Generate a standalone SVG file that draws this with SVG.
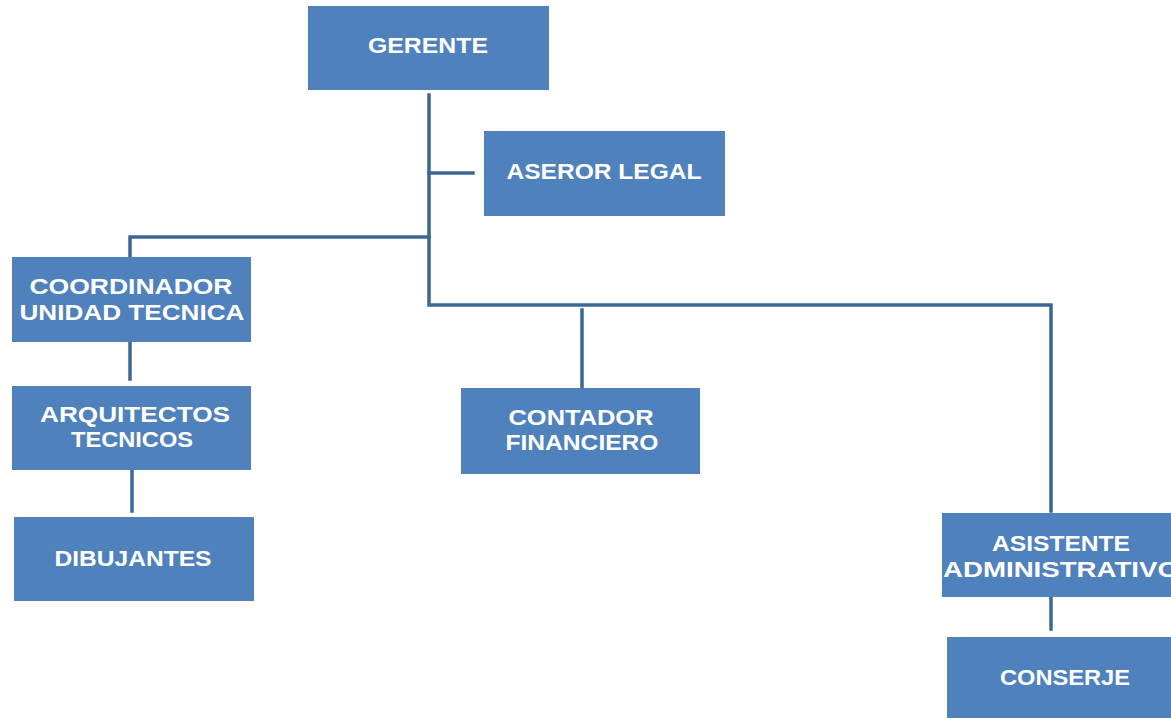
<svg xmlns="http://www.w3.org/2000/svg" width="1171" height="718" viewBox="0 0 1171 718">
<style>
.box{fill:#4F81BD;}
.lbl{fill:#FFFFFF;font-family:"Liberation Sans",Arial,sans-serif;font-weight:700;font-size:22px;text-anchor:middle;}
.ln{stroke:#3B6797;stroke-width:3.5;fill:none;stroke-linecap:square;}
</style>
<rect width="1171" height="718" fill="#FFFFFF"/>
<g id="connectors">
<path class="ln" d="M429,95 V305 H1051 V511"/>
<path class="ln" d="M429,173 H473"/>
<path class="ln" d="M429,237 H130 V256"/>
<path class="ln" d="M582,310 V387"/>
<path class="ln" d="M130,343 V379"/>
<path class="ln" d="M132,471 V511"/>
<path class="ln" d="M1051,598 V629"/>
</g>
<g id="gerente"><rect class="box" x="308" y="6" width="241" height="84"/><text class="lbl" x="428" y="53" textLength="120" lengthAdjust="spacingAndGlyphs">GERENTE</text></g>
<g id="aseror"><rect class="box" x="484" y="131" width="241" height="85"/><text class="lbl" x="604" y="179" textLength="195" lengthAdjust="spacingAndGlyphs">ASEROR LEGAL</text></g>
<g id="coordinador"><rect class="box" x="12" y="257" width="239" height="85"/><text class="lbl" x="131" y="294" textLength="203" lengthAdjust="spacingAndGlyphs">COORDINADOR</text><text class="lbl" x="132" y="320" textLength="225" lengthAdjust="spacingAndGlyphs">UNIDAD TECNICA</text></g>
<g id="arquitectos"><rect class="box" x="12" y="386" width="239" height="84"/><text class="lbl" x="135" y="422" textLength="190" lengthAdjust="spacingAndGlyphs">ARQUITECTOS</text><text class="lbl" x="132" y="447" textLength="122" lengthAdjust="spacingAndGlyphs">TECNICOS</text></g>
<g id="dibujantes"><rect class="box" x="14" y="517" width="240" height="84"/><text class="lbl" x="133" y="566" textLength="157" lengthAdjust="spacingAndGlyphs">DIBUJANTES</text></g>
<g id="contador"><rect class="box" x="461" y="388" width="239" height="86"/><text class="lbl" x="581" y="425" textLength="145" lengthAdjust="spacingAndGlyphs">CONTADOR</text><text class="lbl" x="582" y="450" textLength="153" lengthAdjust="spacingAndGlyphs">FINANCIERO</text></g>
<g id="asistente"><rect class="box" x="942" y="513" width="240" height="84"/><text class="lbl" x="1061" y="551" textLength="138" lengthAdjust="spacingAndGlyphs">ASISTENTE</text><text class="lbl" x="1061" y="577" textLength="236" lengthAdjust="spacingAndGlyphs">ADMINISTRATIVO</text></g>
<g id="conserje"><rect class="box" x="947" y="637" width="240" height="90"/><text class="lbl" x="1065" y="685" textLength="130" lengthAdjust="spacingAndGlyphs">CONSERJE</text></g>
</svg>
